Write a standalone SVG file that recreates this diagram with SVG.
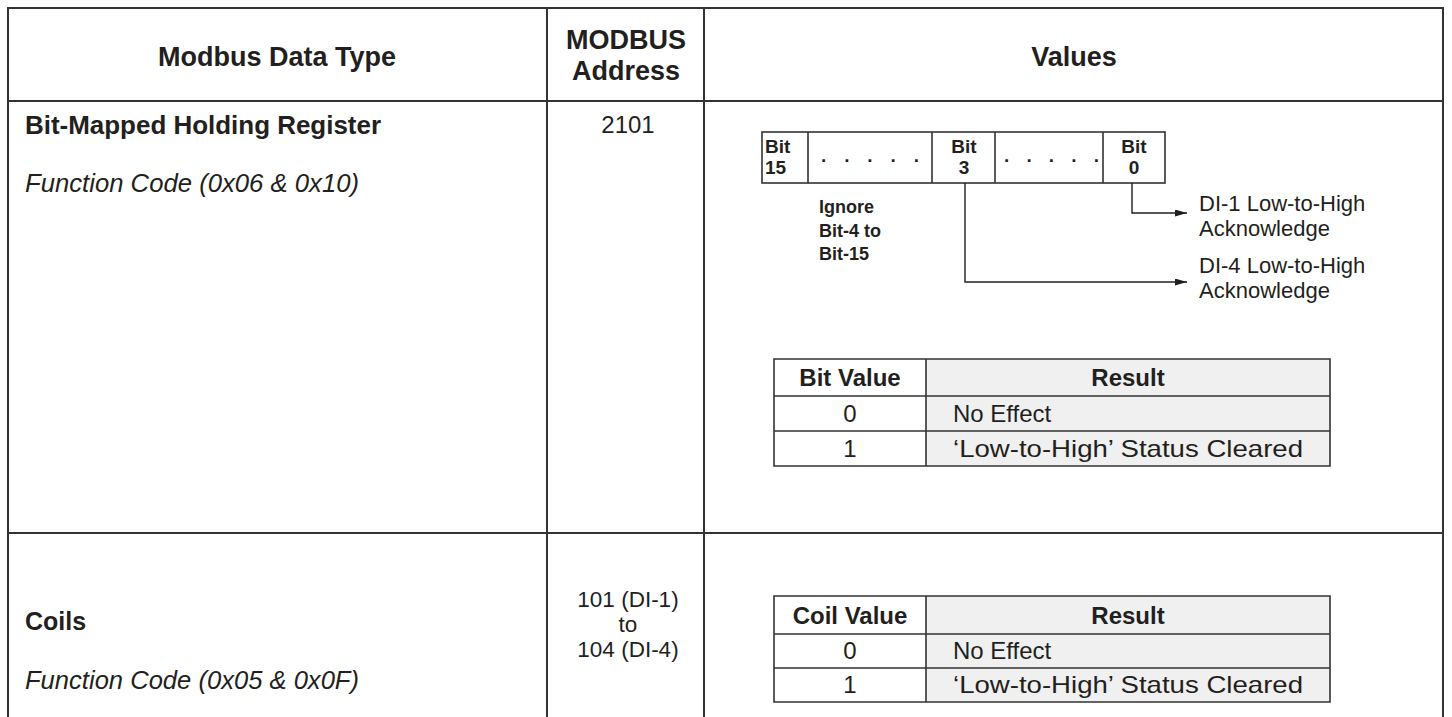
<svg xmlns="http://www.w3.org/2000/svg" width="1452" height="717" viewBox="0 0 1452 717">
<defs>
<style>
.t{font-family:"Liberation Sans",Arial,sans-serif;fill:#231f20}
.h{font-size:27px;font-weight:bold}
.b{font-size:25px;font-weight:bold}
.r{font-size:24px}
.a{font-size:22.5px}
.i{font-size:25px;font-style:italic}
.d{font-size:22px}
.tb{font-size:24px;font-weight:bold}
.tr{font-size:24px}
.s{font-size:19px;font-weight:bold}
.n{font-size:18px;font-weight:bold}
.m{text-anchor:middle}
.grid{stroke:#333;stroke-width:2;fill:none}
.cell{stroke:#333;stroke-width:1.6;fill:none}
.wh{fill:#fff}
.gr{fill:#f0f0f0}
.ln{stroke:#231f20;stroke-width:1.4;fill:none}
</style>
<marker id="ah" viewBox="0 0 12 7" refX="12" refY="3.5" markerWidth="12" markerHeight="7" markerUnits="userSpaceOnUse" orient="auto">
<path d="M0,0 L12,3.5 L0,7 z" fill="#231f20"/>
</marker>
</defs>
<rect width="1452" height="717" fill="#fff"/>
<g id="grid">
<path class="grid" d="M8,717 V8 H1443 V717 M547,8 V717 M704,8 V717 M8,101 H1443 M8,533 H1443"/>
</g>
<g id="header">
<text class="t h m" x="277" y="66">Modbus Data Type</text>
<text class="t h m" x="626" y="49">MODBUS</text>
<text class="t h m" x="626" y="80">Address</text>
<text class="t h m" x="1074" y="66">Values</text>
</g>
<g id="row1-type">
<text class="t b" x="25" y="134" textLength="356" lengthAdjust="spacingAndGlyphs">Bit-Mapped Holding Register</text>
<text class="t i" x="25" y="192" textLength="334" lengthAdjust="spacingAndGlyphs">Function Code (0x06 &amp; 0x10)</text>
</g>
<g id="row1-address">
<text class="t r m" x="628" y="133">2101</text>
</g>
<g id="bit-register">
<rect class="cell wh" x="762" y="132" width="403" height="51"/>
<path class="cell" d="M808,132 V183 M932,132 V183 M995,132 V183 M1103,132 V183"/>
<text class="t s" x="765" y="153">Bit</text>
<text class="t s" x="765" y="174">15</text>
<text class="t s" x="821" y="162" textLength="98">. . . . .</text>
<text class="t s" x="1004" y="162" textLength="95">. . . . .</text>
<text class="t s m" x="964" y="153">Bit</text>
<text class="t s m" x="964" y="174">3</text>
<text class="t s m" x="1134" y="153">Bit</text>
<text class="t s m" x="1134" y="174">0</text>
</g>
<g id="ignore-note">
<text class="t n" x="819" y="213">Ignore</text>
<text class="t n" x="819" y="237">Bit-4 to</text>
<text class="t n" x="819" y="260">Bit-15</text>
</g>
<g id="connectors">
<path class="ln" d="M1132,183 V213 H1187" marker-end="url(#ah)"/>
<path class="ln" d="M965,183 V282 H1187" marker-end="url(#ah)"/>
</g>
<g id="di1-label">
<text class="t d" x="1199" y="211">DI-1 Low-to-High</text>
<text class="t d" x="1199" y="236">Acknowledge</text>
</g>
<g id="di4-label">
<text class="t d" x="1199" y="273">DI-4 Low-to-High</text>
<text class="t d" x="1199" y="298">Acknowledge</text>
</g>
<g id="bit-value-table">
<rect class="wh" x="774" y="359" width="152" height="107"/>
<rect class="gr" x="926" y="359" width="404" height="107"/>
<path class="cell" d="M774,359 H1330 V466 H774 Z M926,359 V466 M774,396 H1330 M774,431 H1330"/>
<text class="t tb m" x="850" y="386">Bit Value</text>
<text class="t tb m" x="1128" y="386">Result</text>
<text class="t tr m" x="850" y="422">0</text>
<text class="t tr" x="953" y="422">No Effect</text>
<text class="t tr m" x="850" y="457">1</text>
<text class="t tr" x="953" y="457" textLength="350" lengthAdjust="spacingAndGlyphs">‘Low-to-High’ Status Cleared</text>
</g>
<g id="row2-type">
<text class="t b" x="25" y="630">Coils</text>
<text class="t i" x="25" y="689" textLength="334" lengthAdjust="spacingAndGlyphs">Function Code (0x05 &amp; 0x0F)</text>
</g>
<g id="row2-address">
<text class="t a m" x="628" y="607">101 (DI-1)</text>
<text class="t a m" x="628" y="632">to</text>
<text class="t a m" x="628" y="657">104 (DI-4)</text>
</g>
<g id="coil-value-table">
<rect class="wh" x="774" y="596" width="152" height="106"/>
<rect class="gr" x="926" y="596" width="404" height="106"/>
<path class="cell" d="M774,596 H1330 V702 H774 Z M926,596 V702 M774,634 H1330 M774,668 H1330"/>
<text class="t tb m" x="850" y="624">Coil Value</text>
<text class="t tb m" x="1128" y="624">Result</text>
<text class="t tr m" x="850" y="659">0</text>
<text class="t tr" x="953" y="659">No Effect</text>
<text class="t tr m" x="850" y="693">1</text>
<text class="t tr" x="953" y="693" textLength="350" lengthAdjust="spacingAndGlyphs">‘Low-to-High’ Status Cleared</text>
</g>
</svg>
